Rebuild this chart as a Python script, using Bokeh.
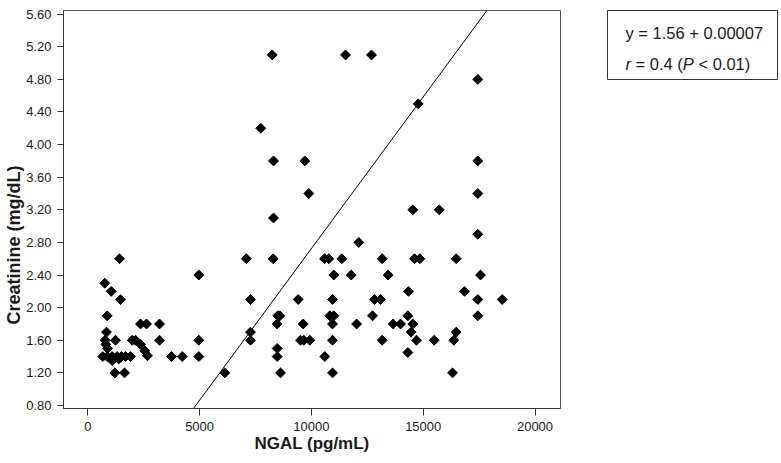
import math
from bokeh.plotting import figure
from bokeh.layouts import row
from bokeh.models import Range1d, FixedTicker, PrintfTickFormatter, Label, Title, ColumnDataSource
from bokeh.embed import file_html
from bokeh.resources import INLINE

# ---- data ----
ngal = [1418, 4965, 760, 1045, 1462, 867, 2357, 2625, 3207, 836, 774, 805, 881, 1239,
        1986, 2133, 2357, 3207, 2549, 2670, 671, 867, 1091, 1315, 1507, 1686, 1910,
        1091, 1386, 3743, 4222, 4965, 4965, 1208, 1641, 6127,
        7090, 8291, 10586, 10778, 11360, 13166, 12120, 11002, 11780, 13434,
        7276, 9410, 10944, 12822, 13090, 8497, 8587, 10823, 11002, 12733,
        8470, 9633, 10944, 12021, 7276, 7276, 9513, 9660, 9929, 10944, 13166,
        8470, 8470, 10600, 8618, 10944, 8247, 11525, 12688, 7737, 8305, 9705,
        9884, 8305,
        17442, 14776, 17442, 17442, 14535, 15716, 17442, 14611, 14848, 16476,
        17562, 14343, 16847, 17442, 18533, 14312, 17442, 13658, 13985, 14535,
        14463, 14700, 15492, 16476, 16369, 14312, 16310]
creatinine = [2.6, 2.4, 2.3, 2.2, 2.1, 1.9, 1.8, 1.8, 1.8, 1.7, 1.6, 1.55, 1.5, 1.6,
              1.6, 1.6, 1.55, 1.6, 1.47, 1.41, 1.4, 1.4, 1.4, 1.4, 1.4, 1.4, 1.4,
              1.35, 1.37, 1.4, 1.4, 1.6, 1.4, 1.2, 1.2, 1.2,
              2.6, 2.6, 2.6, 2.6, 2.6, 2.6, 2.8, 2.4, 2.4, 2.4,
              2.1, 2.1, 2.1, 2.1, 2.1, 1.9, 1.9, 1.9, 1.9, 1.9,
              1.8, 1.8, 1.8, 1.8, 1.7, 1.6, 1.6, 1.6, 1.6, 1.6, 1.6,
              1.5, 1.4, 1.4, 1.2, 1.2, 5.1, 5.1, 5.1, 4.2, 3.8, 3.8,
              3.4, 3.1,
              4.8, 4.5, 3.8, 3.4, 3.2, 3.2, 2.9, 2.6, 2.6, 2.6,
              2.4, 2.2, 2.2, 2.1, 2.1, 1.9, 1.9, 1.8, 1.8, 1.8,
              1.7, 1.6, 1.6, 1.7, 1.6, 1.45, 1.2]
x_ticks = [0, 5000, 10000, 15000, 20000]
y_ticks = [0.8, 1.2, 1.6, 2.0, 2.4, 2.8, 3.2, 3.6, 4.0, 4.4, 4.8, 5.2, 5.6]
fit_slope = 0.000372
fit_intercept = -0.995
fit_x = [4000, 19000]
fit_y = [fit_intercept + fit_slope * v for v in fit_x]
eq_line = "y = 1.56 + 0.00007"
# (text, italic?) pieces of the second line
r_parts = [("r", True), ("= 0.4 (", False), ("P", True), ("< 0.01)", False)]
x_title = "NGAL (pg/mL)"
y_title = "Creatinine (mg/dL)"

FONT = "Liberation Sans"
TXT = "#1a1a1a"
FS = 16.5

p = figure(frame_width=497, frame_height=398, output_backend="svg", toolbar_location=None,
           x_range=Range1d(-1087, 21140), y_range=Range1d(0.763, 5.645),
           min_border_left=63, min_border_right=47, min_border_top=1, min_border_bottom=56)
p.background_fill_color = "white"
p.border_fill_color = "white"
p.outline_line_color = "#555555"
p.outline_line_width = 1
p.xgrid.visible = False
p.ygrid.visible = False

src = ColumnDataSource(dict(x=ngal, y=creatinine))
p.scatter("x", "y", source=src, marker="square", angle=math.pi / 4, size=7,
          fill_color="black", line_color="black")
p.line(fit_x, fit_y, line_color="black", line_width=1)

for ax in (p.xaxis[0], p.yaxis[0]):
    ax.axis_line_color = "#333333"
    ax.major_tick_line_color = "#333333"
    ax.minor_tick_line_color = None
    ax.major_tick_in = 0
    ax.major_label_text_font = FONT
    ax.major_label_text_font_size = "13px"
    ax.major_label_text_color = TXT

p.xaxis.ticker = FixedTicker(ticks=x_ticks)
p.xaxis.major_tick_out = 7
p.xaxis.major_label_standoff = 6
p.xaxis.axis_label = x_title
p.xaxis.axis_label_text_font = FONT
p.xaxis.axis_label_text_font_size = "17px"
p.xaxis.axis_label_text_font_style = "bold"
p.xaxis.axis_label_text_color = TXT
p.xaxis.axis_label_standoff = 0

p.yaxis.ticker = FixedTicker(ticks=y_ticks)
p.yaxis.formatter = PrintfTickFormatter(format="%.2f")
p.yaxis.major_tick_out = 6
p.yaxis.major_label_standoff = 6

p.add_layout(Title(text=y_title, align="left", offset=84, standoff=0,
                   text_font=FONT, text_font_size="18px", text_font_style="bold",
                   text_color=TXT), "left")

# equation box, as a small frame to the right of the chart
q = figure(frame_width=170, frame_height=70, output_backend="svg", toolbar_location=None,
           x_range=Range1d(0, 170), y_range=Range1d(0, 70),
           x_axis_type=None, y_axis_type=None,
           min_border_left=0, min_border_right=4, min_border_top=10, min_border_bottom=0)
q.outline_line_color = "#333333"
q.outline_line_width = 1
q.background_fill_color = "white"
q.border_fill_color = "white"
q.add_layout(Label(x=18, y=48, text=eq_line, text_align="left", text_baseline="middle",
                   text_font=FONT, text_font_size=f"{FS}px", text_color=TXT))
# advance widths (em) of "r", "= 0.4 (", "P"; a space is 0.278 em
adv = [0.333 + 0.278, 0.584 + 0.278 + 0.556 + 0.278 + 0.556 + 0.278 + 0.333, 0.667 + 0.278, 0]
xs = 18
for (part, ital), a in zip(r_parts, adv):
    q.add_layout(Label(x=xs, y=17, text=part, text_align="left", text_baseline="middle",
                       text_font=FONT, text_font_size=f"{FS}px",
                       text_font_style="italic" if ital else "normal", text_color=TXT))
    xs += a * FS

page = row(p, q, spacing=0)
open("out.html", "w").write(file_html(page, INLINE))
